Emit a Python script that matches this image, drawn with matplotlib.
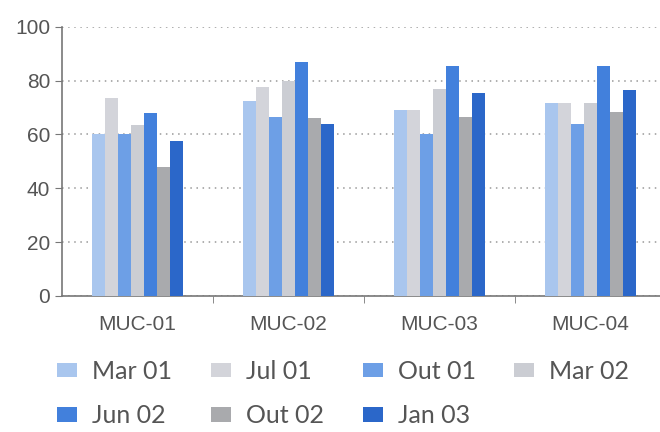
import numpy as np
import matplotlib
matplotlib.use("Agg")
import matplotlib.pyplot as plt

plt.rcParams['font.family'] = ['Liberation Sans', 'DejaVu Sans']

sites = ['MUC-01', 'MUC-02', 'MUC-03', 'MUC-04']
periods = ['Mar 01', 'Jul 01', 'Out 01', 'Mar 02', 'Jun 02', 'Out 02', 'Jan 03']

mar01 = [60, 72.5, 69, 71.5]
jul01 = [73.5, 77.5, 69, 71.5]
out01 = [60, 66.5, 60, 64]
mar02 = [63.5, 80, 77, 71.5]
jun02 = [68, 87, 85.5, 85.5]
out02 = [48, 66, 66.5, 68.5]
jan03 = [57.5, 64, 75.5, 76.5]

series = [mar01, jul01, out01, mar02, jun02, out02, jan03]
colors = ['#a9c6ee', '#d3d4da', '#6d9fe6', '#cbcdd3', '#4280dc', '#a9aaad', '#2b67c9']

fig = plt.figure(figsize=(6.6, 4.32), dpi=100)
ax = fig.add_axes([0.094, 0.315, 0.906, 0.623])

x = np.arange(len(sites))
w = 0.086
bars = []
for i, (vals, col) in enumerate(zip(series, colors)):
    b = ax.bar(x + (i - 3) * w, vals, w, color=col, label=periods[i], zorder=3)
    bars.append(b)

ax.set_xlim(-0.5, 3.46)
ax.set_ylim(0, 100)
ax.set_yticks([0, 20, 40, 60, 80, 100])
ax.yaxis.grid(True, linestyle=(0, (1, 3)), color='#999999', linewidth=1.1, zorder=0)
ax.set_xticks(x)
ax.set_xticklabels(sites)
ax.set_xticks([0.5, 1.5, 2.5], minor=True)
ax.tick_params(axis='x', which='major', length=0, pad=14, labelsize=15, labelcolor='#555555')
ax.tick_params(axis='x', which='minor', length=5, color='#777777')
ax.tick_params(axis='y', length=5, color='#777777', labelsize=15, labelcolor='#555555')

for s in ['top', 'right']:
    ax.spines[s].set_visible(False)
for s in ['left', 'bottom']:
    ax.spines[s].set_color('#777777')
    ax.spines[s].set_linewidth(1.2)

# legend fills column by column, so reorder to read across rows
order = [0, 4, 1, 5, 2, 6, 3]
fig.legend([bars[k] for k in order], [periods[k] for k in order],
           loc='upper left', bbox_to_anchor=(57 / 660, 1 - 360 / 432), ncol=4,
           frameon=False, prop={'family': 'Lato', 'size': 18}, labelcolor='#555555',
           handlelength=0.8, handleheight=0.5, borderpad=0, borderaxespad=0,
           columnspacing=1.55, handletextpad=0.6, labelspacing=0.85)

fig.savefig('out.png', dpi=100)
